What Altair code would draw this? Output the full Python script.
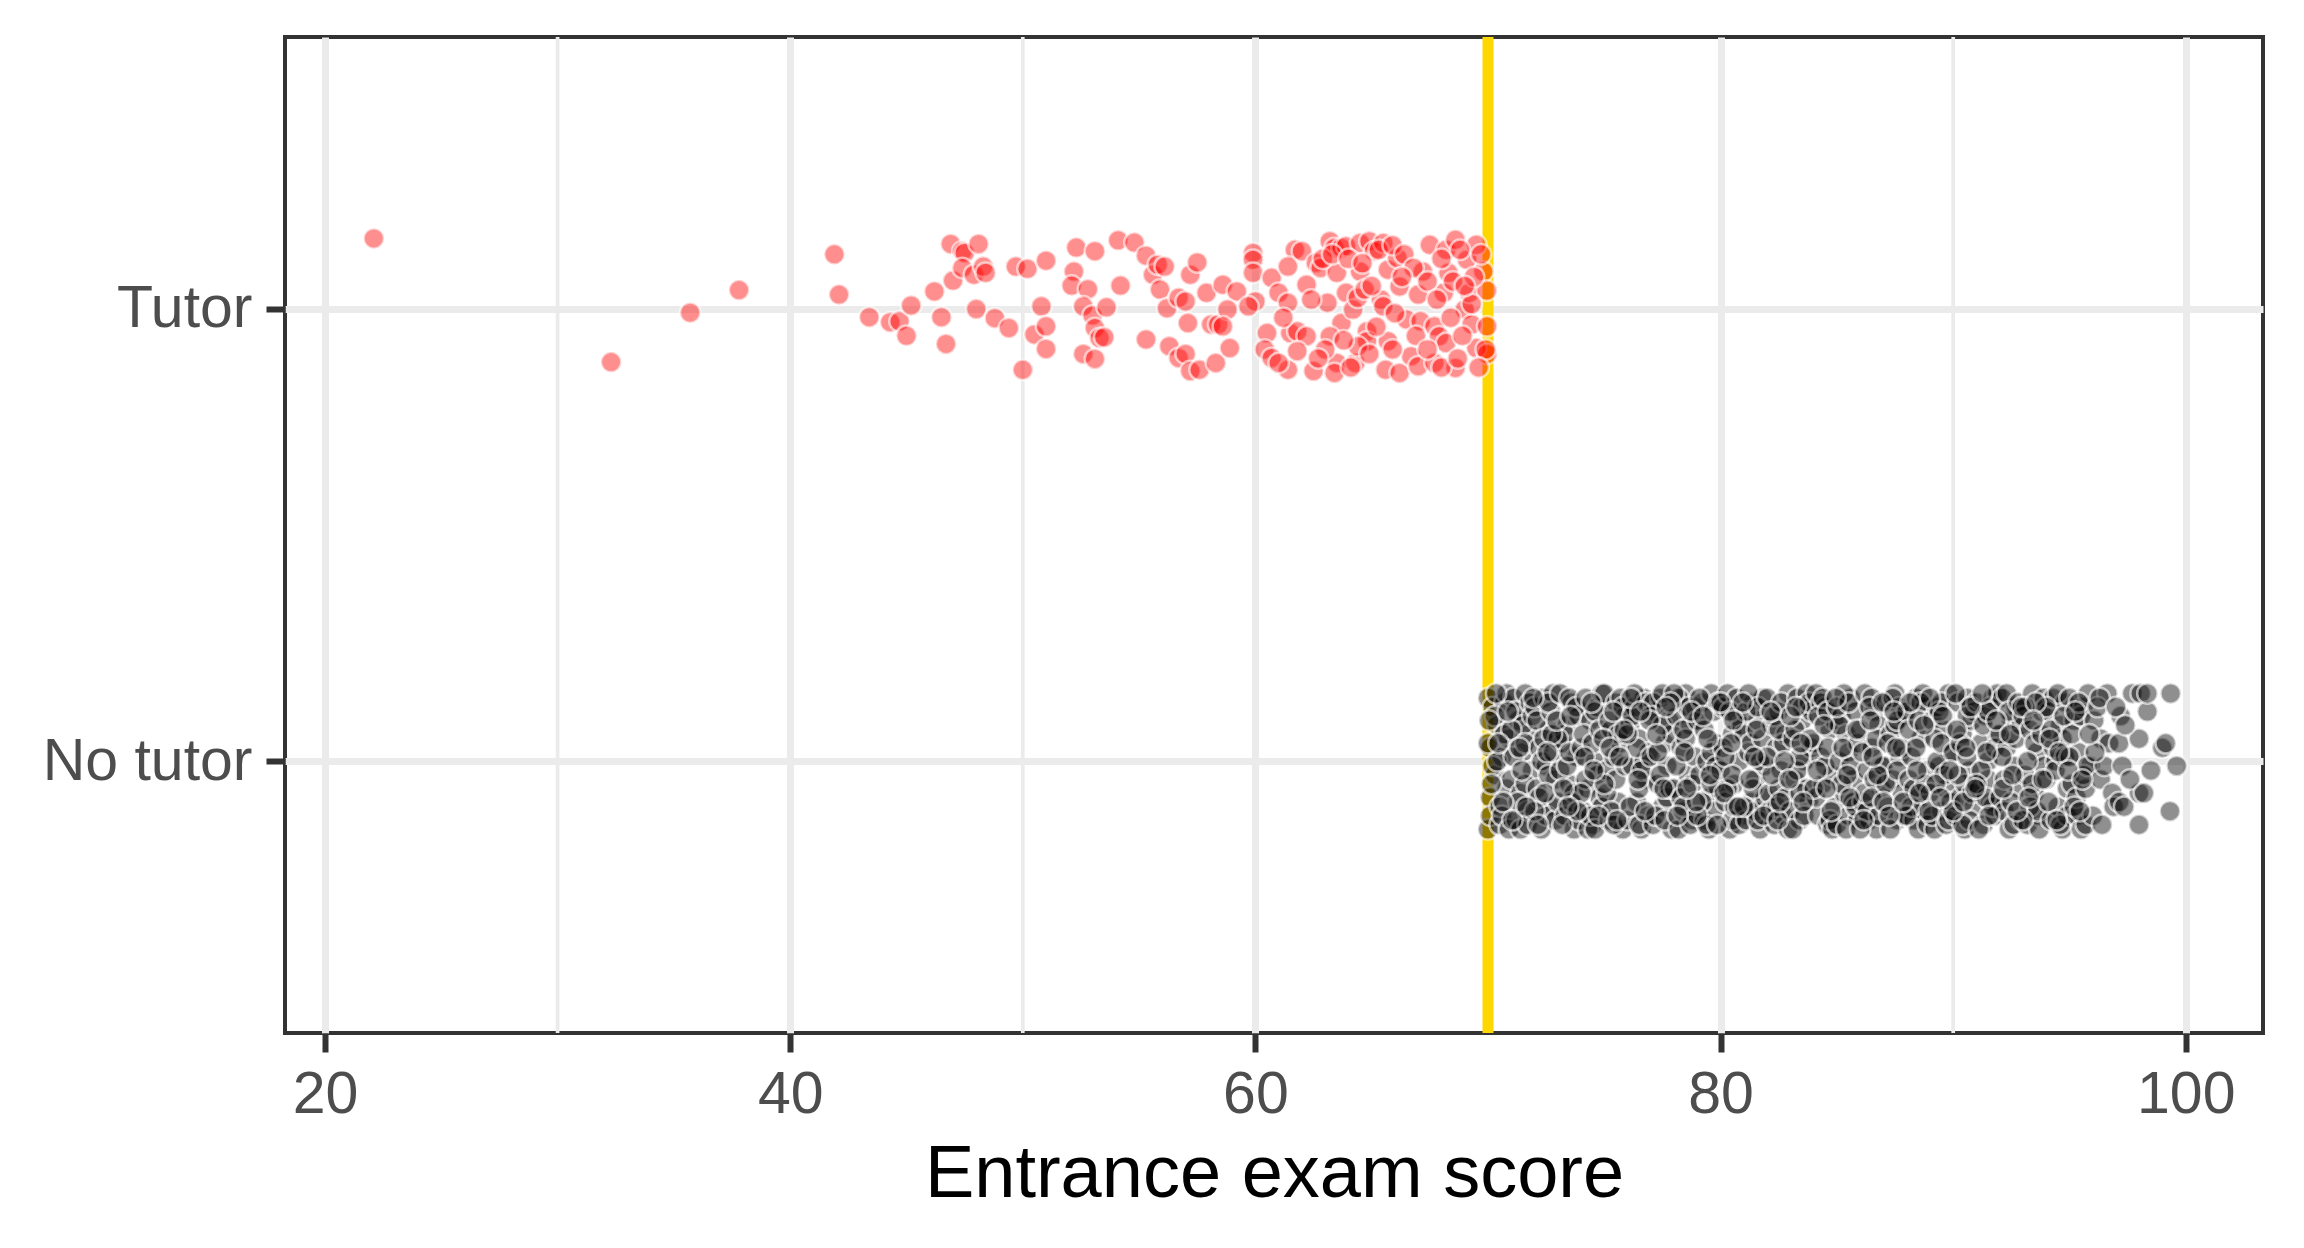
import altair as alt
import pandas as pd

# ---- data ----
# Tutor group: (entrance exam score, vertical jitter)
tutor_points = [
    (22.1, 0.155), (32.3, -0.118), (35.7, -0.009), (37.8, 0.041), (41.9, 0.12), (42.1, 0.031),
    (43.4, -0.019), (44.3, -0.03),
    (44.7, -0.028), (45.0, -0.06), (45.2, 0.007), (46.2, 0.038), (46.5, -0.019), (46.7, -0.078),
    (47.0, 0.062), (46.9, 0.143), (47.4, 0.127), (47.5, 0.123), (48.1, 0.143), (47.4, 0.09),
    (47.9, 0.075), (48.3, 0.093), (48.4, 0.079), (48.0, -0.001), (48.8, -0.021), (49.4, -0.043),
    (49.7, 0.093), (50.2, 0.088), (51.0, 0.106), (50.8, 0.005), (50.5, -0.057), (51.0, -0.039),
    (51.0, -0.089), (50.0, -0.135), (52.3, 0.135), (53.1, 0.127), (52.2, 0.082), (52.1, 0.051),
    (52.8, 0.043), (52.6, 0.005), (53.0, -0.015), (53.6, 0.003), (53.1, -0.043), (53.3, -0.065),
    (53.5, -0.063), (52.6, -0.10), (53.1, -0.111), (54.2, 0.051), (54.1, 0.151), (54.8, 0.146),
    (55.3, 0.117), (55.6, 0.075), (55.8, 0.097), (56.1, 0.093), (55.9, 0.042), (56.2, 0.001),
    (55.3, -0.068), (56.3, -0.083), (56.7, -0.109), (57.0, -0.10), (57.2, -0.138), (57.6, -0.135),
    (56.7, 0.024), (57.0, 0.016), (57.2, 0.075), (57.5, 0.102), (57.1, -0.032), (57.9, 0.035),
    (58.1, -0.035), (58.3, -0.12), (58.4, -0.035),
    (58.6, 0.053), (59.2, 0.038), (58.8, -0.002), (58.6, -0.039), (58.9, -0.087), (59.9, 0.123),
    (59.9, 0.108), (59.9, 0.079), (60.0, 0.016), (59.7, 0.005), (60.7, 0.068), (61.0, 0.035),
    (61.4, 0.013), (60.5, -0.054), (60.4, -0.09), (60.7, -0.109), (61.4, -0.135), (61.5, -0.054),
    (61.8, -0.05), (62.2, -0.061), (61.8, -0.094), (62.5, -0.138), (61.7, 0.13), (62.0, 0.127),
    (61.4, 0.093), (62.2, 0.053), (62.6, 0.101), (62.8, 0.09), (63.1, 0.013), (63.2, 0.149),
    (63.4, 0.134), (63.7, 0.134), (63.9, 0.138), (63.5, 0.079), (63.7, -0.032), (63.2, -0.061),
    (63.5, -0.12), (63.4, -0.142), (63.9, 0.035), (64.2, -0.002), (64.4, 0.024), (64.3, -0.12),
    (64.5, 0.082), (64.7, 0.042), (64.5, 0.145), (64.9, 0.149), (65.1, 0.127), (64.8, -0.05),
    (64.8, -0.072), (64.4, -0.083), (65.5, 0.145), (65.7, 0.086), (65.4, 0.02), (65.5, 0.005),
    (65.7, -0.072), (65.6, -0.135), (66.1, 0.112), (66.2, 0.049), (66.2, -0.142), (66.5, -0.024),
    (66.7, -0.105), (67.0, -0.127), (67.0, 0.031), (67.2, 0.082), (67.1, -0.028), (67.5, 0.141),
    (67.7, -0.039), (67.7, -0.12), (67.9, -0.061), (68.1, 0.035), (68.2, 0.13), (68.3, 0.079),
    (68.5, 0.06), (68.6, 0.152), (68.2, -0.076), (68.6, -0.131), (69.0, -0.002), (69.1, 0.108),
    (69.2, 0.035), (69.5, 0.141), (69.3, -0.035), (69.5, -0.087), (69.8, 0.082), (69.95, 0.04),
    (69.96, -0.039), (69.96, -0.10), (69.9, -0.09),
    (62.9, 0.11), (63.3, 0.12), (64.0, 0.11), (64.6, 0.10), (65.3, 0.13), (65.9, 0.14), (66.4, 0.12),
    (66.8, 0.09), (67.4, 0.06), (68.0, 0.11), (68.8, 0.13), (69.4, 0.07), (69.7, 0.12), (61.2, -0.02),
    (62.4, 0.02), (63.0, -0.09), (63.8, -0.07), (64.1, -0.13), (64.9, -0.10), (65.2, -0.04),
    (65.9, -0.09), (66.0, -0.01), (66.9, -0.06), (67.4, -0.09), (68.0, -0.13), (68.4, -0.02),
    (68.9, -0.06), (69.3, 0.01), (69.6, -0.13), (66.3, 0.07), (65.0, 0.05), (62.7, -0.11),
    (61.0, -0.12), (67.8, 0.02), (68.7, -0.11), (69.0, 0.05),
]

# No-tutor group: (entrance exam score, vertical jitter in hundredths)
no_tutor_points = [
    (70.0, 14), (70.0, -15), (70.1, 3), (70.1, -8), (70.2, 12), (70.3, -3), (70.1, -12), (70.4, 8), (70.5, -14), (70.6, 1), (70.7, 13), (70.8, -6), (70.9, 5), (70.5, -10), (70.3, 10), (70.8, 15), (70.2, -1), (70.6, -12), (70.9, -15), (70.4, 0), (70.7, 6), (70.0, 4),
    (71.0, -4), (71.1, 14), (71.2, -13), (71.3, 9), (71.4, -7), (71.5, 2), (71.6, 15), (71.7, -11), (71.8, 6), (71.9, -2), (71.2, 11), (71.4, -15), (71.6, -5), (71.8, 13), (71.1, 1), (71.3, -9), (71.5, 8), (71.7, -14), (71.9, 10), (71.0, 7), (71.6, 4),
    (72.0, 12), (72.1, -6), (72.2, 3), (72.3, -15), (72.4, 14), (72.5, -1), (72.6, 7), (72.7, -10), (72.8, 15), (72.9, -4), (72.1, 9), (72.3, 0), (72.5, -12), (72.7, 11), (72.9, -13), (72.2, -8), (72.4, 5), (72.6, -3), (72.8, 2), (72.0, -11), (72.6, 13),
    (73.0, -9), (73.1, 15), (73.2, 4), (73.3, -12), (73.4, 8), (73.5, -5), (73.6, 13), (73.7, -15), (73.8, 1), (73.9, 10), (73.1, -2), (73.3, 6), (73.5, 14), (73.7, -7), (73.9, -13), (73.2, -14), (73.4, -1), (73.6, -9), (73.8, 12), (73.0, 5), (73.5, 2),
    (74.0, 3), (74.1, -11), (74.2, 14), (74.3, -6), (74.4, 9), (74.5, -14), (74.6, 0), (74.7, 12), (74.8, -8), (74.9, 15), (74.1, 6), (74.3, -15), (74.5, 4), (74.7, -3), (74.9, -10), (74.2, -4), (74.4, -12), (74.6, 11), (74.8, 7), (74.0, -7), (74.6, -15),
    (75.0, 15), (75.1, -2), (75.2, -13), (75.3, 7), (75.4, 1), (75.5, 13), (75.6, -9), (75.7, 4), (75.8, -15), (75.9, 10), (75.1, -7), (75.3, -11), (75.5, -4), (75.7, 14), (75.9, -1), (75.2, 9), (75.4, -14), (75.6, 6), (75.8, 12), (75.0, -5), (75.4, 11),
    (76.0, -13), (76.1, 8), (76.2, -1), (76.3, 12), (76.4, -9), (76.5, 5), (76.6, -15), (76.7, 14), (76.8, -4), (76.9, 2), (76.1, -10), (76.3, 15), (76.5, -6), (76.7, 0), (76.9, -12), (76.2, 10), (76.4, 3), (76.6, -2), (76.8, 13), (76.0, 6), (76.5, -14),
    (77.0, 1), (77.1, -14), (77.2, 11), (77.3, -5), (77.4, 14), (77.5, -10), (77.6, 4), (77.7, -1), (77.8, 9), (77.9, -15), (77.1, 13), (77.3, 2), (77.5, 15), (77.7, -8), (77.9, 6), (77.2, -12), (77.4, -3), (77.6, -13), (77.8, -6), (77.0, 10), (77.5, 8),
    (78.0, -6), (78.1, 10), (78.2, -15), (78.3, 3), (78.4, -11), (78.5, 15), (78.6, -3), (78.7, 8), (78.8, -13), (78.9, 12), (78.1, -1), (78.3, -8), (78.5, 5), (78.7, -14), (78.9, 1), (78.2, 14), (78.4, 7), (78.6, 12), (78.8, -5), (78.0, 15), (78.4, -10),
    (79.0, 9), (79.1, -3), (79.2, 13), (79.3, -13), (79.4, 0), (79.5, -8), (79.6, 15), (79.7, -11), (79.8, 4), (79.9, -6), (79.1, 14), (79.3, 7), (79.5, -15), (79.7, 11), (79.9, 13), (79.2, -9), (79.4, -14), (79.6, 2), (79.8, -1), (79.0, -12), (79.6, -5),
    (80.0, -2), (80.1, 12), (80.2, -9), (80.3, 15), (80.4, -15), (80.5, 6), (80.6, -5), (80.7, 10), (80.8, 0), (80.9, -12), (80.1, 3), (80.3, -6), (80.5, -13), (80.7, 14), (80.9, 8), (80.2, 1), (80.4, 11), (80.6, -10), (80.8, -14), (80.0, 13), (80.5, -3),
    (81.0, 6), (81.1, -13), (81.2, 2), (81.3, -9), (81.4, 13), (81.5, -4), (81.6, 9), (81.7, -15), (81.8, 14), (81.9, -1), (81.1, 11), (81.3, 4), (81.5, -11), (81.7, 0), (81.9, -8), (81.2, 15), (81.4, -6), (81.6, -13), (81.8, 5), (81.0, -10), (81.6, 12),
    (82.0, 14), (82.1, -7), (82.2, 8), (82.3, -14), (82.4, 3), (82.5, 11), (82.6, -2), (82.7, -12), (82.8, 6), (82.9, 15), (82.1, -11), (82.3, 10), (82.5, -6), (82.7, 4), (82.9, -15), (82.2, -3), (82.4, -10), (82.6, 13), (82.8, -8), (82.0, 1), (82.5, 7),
    (83.0, -11), (83.1, 5), (83.2, -4), (83.3, 14), (83.4, -13), (83.5, 9), (83.6, 0), (83.7, 15), (83.8, -9), (83.9, 3), (83.1, -15), (83.3, -2), (83.5, 12), (83.7, -6), (83.9, 11), (83.2, 7), (83.4, 1), (83.6, -12), (83.8, 13), (83.0, 10), (83.4, -7),
    (84.0, 4), (84.1, 15), (84.2, -12), (84.3, 1), (84.4, -5), (84.5, 12), (84.6, -14), (84.7, 7), (84.8, -3), (84.9, -10), (84.1, -8), (84.3, 13), (84.5, -1), (84.7, -13), (84.9, 9), (84.2, 10), (84.4, 14), (84.6, 3), (84.8, -15), (84.0, -6), (84.6, 11),
    (85.0, -14), (85.1, 0), (85.2, 10), (85.3, -7), (85.4, 6), (85.5, -12), (85.6, 14), (85.7, -4), (85.8, 11), (85.9, -13), (85.1, 8), (85.3, 15), (85.5, 2), (85.7, -9), (85.9, 4), (85.2, -5), (85.4, -15), (85.6, -1), (85.8, -10), (85.0, 12), (85.5, 13),
    (86.0, 7), (86.1, -9), (86.2, 15), (86.3, -2), (86.4, -13), (86.5, 3), (86.6, 11), (86.7, -15), (86.8, 8), (86.9, -6), (86.1, 2), (86.3, -11), (86.5, 14), (86.7, 5), (86.9, -1), (86.2, -7), (86.4, 12), (86.6, -4), (86.8, -12), (86.0, -15), (86.5, -8),
    (87.0, -1), (87.1, 13), (87.2, -10), (87.3, 6), (87.4, -4), (87.5, 15), (87.6, -13), (87.7, 1), (87.8, -7), (87.9, 10), (87.1, -5), (87.3, -15), (87.5, 8), (87.7, 12), (87.9, -12), (87.2, 4), (87.4, 14), (87.6, -2), (87.8, 3), (87.0, -9), (87.6, 9),
    (88.0, 11), (88.1, -4), (88.2, 1), (88.3, -13), (88.4, 14), (88.5, -8), (88.6, 5), (88.7, -11), (88.8, 12), (88.9, -2), (88.1, 7), (88.3, -6), (88.5, -15), (88.7, 15), (88.9, -14), (88.2, -10), (88.4, 3), (88.6, 13), (88.8, -5), (88.0, -12), (88.5, 9),
    (89.0, -7), (89.1, 9), (89.2, -15), (89.3, 12), (89.4, -1), (89.5, -11), (89.6, 7), (89.7, -6), (89.8, 15), (89.9, 2), (89.1, -12), (89.3, 0), (89.5, 13), (89.7, -14), (89.9, -9), (89.2, 5), (89.4, 11), (89.6, -3), (89.8, -13), (89.0, 14), (89.5, 4),
    (90.0, 2), (90.1, -12), (90.2, 13), (90.3, -8), (90.4, 6), (90.5, -15), (90.6, 14), (90.7, -2), (90.8, 9), (90.9, -10), (90.1, 15), (90.3, 4), (90.5, -5), (90.7, -13), (90.9, 11), (90.2, -3), (90.4, -14), (90.6, 1), (90.8, -7), (90.0, -11), (90.6, 10),
    (91.0, 13), (91.1, -6), (91.2, 4), (91.3, -14), (91.4, 10), (91.5, 0), (91.6, -9), (91.7, 14), (91.8, -12), (91.9, 6), (91.1, -15), (91.3, 8), (91.5, -4), (91.7, -10), (91.9, 15), (91.2, -2), (91.4, -8), (91.6, 12), (91.8, 3), (91.0, -5), (91.5, 11),
    (92.0, -8), (92.1, 14), (92.2, -11), (92.3, 3), (92.4, -15), (92.5, 9), (92.6, -1), (92.7, 12), (92.8, -6), (92.9, -13), (92.1, 1), (92.3, 15), (92.5, -9), (92.7, 5), (92.9, 8), (92.2, -4), (92.4, 11), (92.6, -14), (92.8, 13), (92.0, 6),
    (93.0, 10), (93.1, -3), (93.2, -14), (93.3, 7), (93.4, 15), (93.5, -7), (93.6, 2), (93.7, -12), (93.8, 11), (93.9, -1), (93.1, 12), (93.3, -10), (93.5, 4), (93.7, -15), (93.9, 14), (93.2, 0), (93.4, -5), (93.6, -11), (93.8, 6), (93.0, -13),
    (94.0, -4), (94.1, 11), (94.2, -13), (94.3, 14), (94.4, 0), (94.5, -10), (94.6, 8), (94.7, -15), (94.8, 13), (94.9, -6), (94.1, -9), (94.3, 3), (94.5, 15), (94.7, 5), (94.9, -12), (94.2, 7), (94.4, -2), (94.6, -14), (94.8, 1), (94.0, 12),
    (95.0, 14), (95.1, -5), (95.2, 9), (95.3, -12), (95.4, 2), (95.5, -15), (95.6, 12), (95.7, -14), (95.8, 15), (95.9, -1), (95.1, 6), (95.3, -8), (95.5, 10), (95.7, -6), (95.2, -10), (95.4, 13), (95.6, -3), (95.0, 1),
    (96.06, 9), (95.77, -1), (96.34, 5), (96.34, -4), (96.63, 15), (96.7, 4), (96.84, -7), (96.0, -12), (96.2, 12), (96.4, -14), (96.5, -1), (96.1, 2), (96.9, -10), (96.3, 14),
    (97.13, -9), (97.13, 4), (97.2, 10), (97.27, -1), (97.35, -10), (97.7, 15), (97.99, -14), (97.99, -7), (97.99, 5), (97.0, 12), (97.4, 8), (97.6, -4),
    (98.06, 15), (98.2, -7), (98.35, 11), (98.35, 15), (98.99, 3), (98.5, -2),
    (99.14, 4), (99.35, 15), (99.61, -1), (99.32, -11),
]

# further no-tutor points filling the dense band (score, jitter in hundredths)
no_tutor_more = [
    (70.05, 9), (70.15, -5), (70.35, 15), (70.65, -9), (70.85, 11), (71.05, -13), (71.35, 3), (71.65, -10), (71.95, 14),
    (72.15, -14), (72.45, -7), (72.75, 6), (72.95, 9), (73.25, -6), (73.55, 10), (73.85, -11), (74.15, 1), (74.45, 13),
    (74.75, -12), (74.95, 5), (75.25, 3), (75.55, -13), (75.85, 7), (76.15, 14), (76.45, -4), (76.75, -11), (76.95, 9),
    (77.25, 6), (77.55, -6), (77.85, 13), (78.15, -12), (78.45, 2), (78.75, 11), (78.95, -9), (79.25, 10), (79.55, -3),
    (79.85, -14), (80.15, -7), (80.45, 4), (80.75, -10), (80.95, 13), (81.25, -4), (81.55, 7), (81.85, -12), (82.15, 11),
    (82.45, -13), (82.75, 0), (82.95, -4), (83.25, 12), (83.55, -9), (83.85, 5), (84.15, -2), (84.45, 8), (84.75, -11),
    (84.95, 14), (85.25, 3), (85.55, -8), (85.85, 7), (86.15, -13), (86.45, 9), (86.75, -3), (86.95, 13), (87.25, -12),
    (87.55, 3), (87.85, -9), (88.15, 13), (88.45, -2), (88.75, 8), (88.95, -11), (89.25, -5), (89.55, 10), (89.85, -2),
    (90.15, 7), (90.45, -9), (90.75, 12), (90.95, -6), (91.25, 15), (91.55, -12), (91.85, 9), (92.15, -6), (92.45, 6),
    (92.75, -11), (92.95, 12), (93.25, -8), (93.55, 13), (93.85, -4), (94.15, 5), (94.45, -13), (94.75, 10), (94.95, -2),
    (95.25, 11), (95.55, -4), (95.85, 6), (70.45, 4), (71.45, -2), (72.55, 2), (73.45, -10), (74.55, -2), (75.65, 1),
    (76.55, 11), (77.65, 12), (78.55, -6), (79.45, 5), (80.55, 9), (81.45, 1), (82.55, -9), (83.45, 4), (84.55, -6),
    (85.45, -3), (86.55, 1), (87.45, 11), (88.55, -7), (89.45, -8), (90.55, 3), (91.45, 2), (92.55, -3), (93.45, 9),
    (94.55, 2), (95.45, -11),
]

group_labels = ["No tutor", "Tutor"]        # positions 0 and 1 on the y scale
group_colors = ["#000000", "#FF0000"]
cutoff = [70]
major_breaks = [20, 40, 60, 80, 100]
minor_breaks = [30, 50, 70, 90]

# ---- build tables ----
rows = []
for s, j in tutor_points:
    rows.append({"score": s, "pos": 1 + j, "group": "Tutor"})
for s, j in no_tutor_points + no_tutor_more:
    rows.append({"score": s, "pos": 0 + j / 100.0, "group": "No tutor"})
points_df = pd.DataFrame(rows)
minor_df = pd.DataFrame({"v": minor_breaks})
cut_df = pd.DataFrame({"v": cutoff})

FONT = "Liberation Sans"

x_scale = alt.Scale(domain=[18.28, 103.32], nice=False, zero=False)
y_scale = alt.Scale(domain=[-0.6, 1.6], nice=False, zero=False)

minor = alt.Chart(minor_df).mark_rule(color="#EBEBEB", strokeWidth=3.7).encode(
    x=alt.X("v:Q", scale=x_scale)
)

cut = alt.Chart(cut_df).mark_rule(color="#FFD700", strokeWidth=11).encode(
    x=alt.X("v:Q", scale=x_scale)
)

pts = alt.Chart(points_df).mark_circle(
    size=420, fillOpacity=0.44, stroke="white", strokeWidth=2.5, strokeOpacity=0.6
).encode(
    x=alt.X(
        "score:Q",
        scale=x_scale,
        title="Entrance exam score",
        axis=alt.Axis(
            values=major_breaks,
            grid=True,
            gridColor="#EBEBEB",
            gridWidth=7,
            domain=False,
            ticks=True,
            tickColor="#333333",
            tickWidth=6,
            tickSize=19,
            labelFont=FONT,
            labelFontSize=59,
            labelColor="#4D4D4D",
            labelBaseline="alphabetic",
            labelPadding=60,
            labelFlush=False,
            labelOverlap=False,
            labelLimit=0,
            titleFont=FONT,
            titleFontSize=74,
            titleFontWeight="normal",
            titleColor="#000000",
            titleBaseline="alphabetic",
            titleY=163,
        ),
    ),
    y=alt.Y(
        "pos:Q",
        scale=y_scale,
        title=None,
        axis=alt.Axis(
            values=[0, 1],
            labelExpr="datum.value == 1 ? 'Tutor' : 'No tutor'",
            grid=True,
            gridColor="#EBEBEB",
            gridWidth=7,
            domain=False,
            ticks=True,
            tickColor="#333333",
            tickWidth=6,
            tickSize=19,
            labelFont=FONT,
            labelFontSize=59,
            labelColor="#4D4D4D",
            labelPadding=14,
            labelFlush=False,
            labelOverlap=False,
            labelLimit=0,
        ),
    ),
    fill=alt.Fill(
        "group:N",
        scale=alt.Scale(domain=group_labels, range=group_colors),
        legend=None,
    ),
)

chart = (
    alt.layer(minor, cut, pts)
    .properties(
        width=1978,
        height=996,
        background="white",
        autosize=alt.AutoSizeParams(type="none"),
        padding={"left": 277, "top": 29, "right": 33, "bottom": 207},
        view=alt.ViewBackground(stroke="#333333", strokeWidth=4),
    )
    .configure_view(stroke="#333333", strokeWidth=4)
)

chart.save("out.html", embed_options={"renderer": "svg", "actions": False})
